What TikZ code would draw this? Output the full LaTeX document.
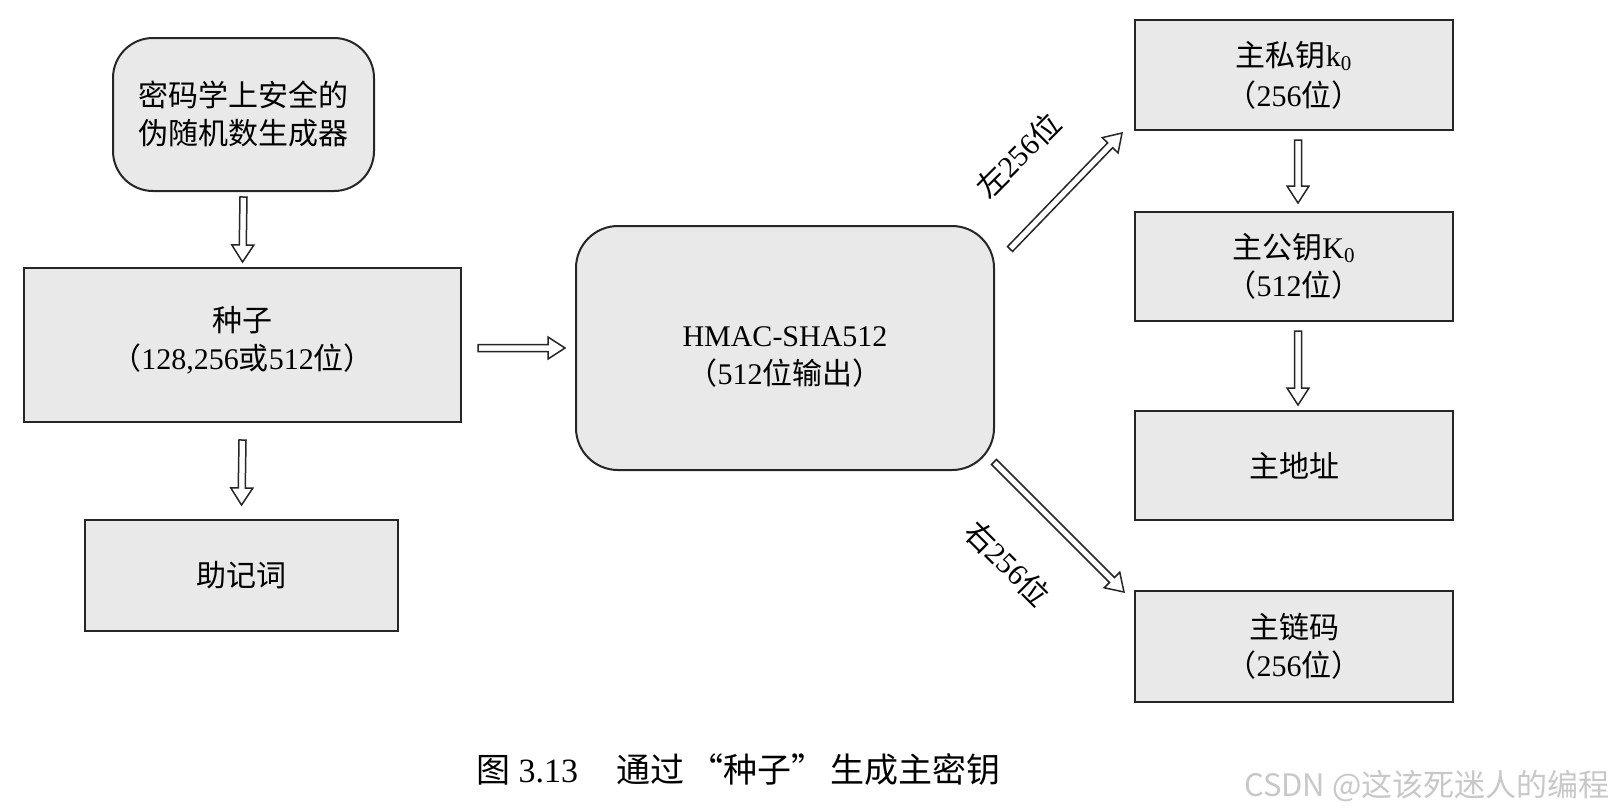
\documentclass[tikz,border=0pt]{standalone}
\usepackage{fontspec}
\setmainfont{Liberation Serif}
\newfontfamily\cjk{Noto Sans CJK SC}
\newfontfamily\wmfont{Noto Sans CJK SC}
\usetikzlibrary{calc}
\newcommand\zh[1]{{\cjk #1}}
\definecolor{boxfill}{RGB}{233,233,233}
\definecolor{linec}{RGB}{38,38,38}
\definecolor{wmgray}{RGB}{200,200,200}
\begin{document}
\begin{tikzpicture}[x=0.5pt,y=-0.5pt,
  box/.style={draw=linec, line width=1pt, fill=boxfill, align=center, inner sep=0pt,
    font={\fontsize{15pt}{19pt}\selectfont}},
  rbox/.style={box, rounded corners=20pt},
  lbl/.style={font={\fontsize{15pt}{18.5pt}\selectfont}, inner sep=0pt},
  harrow/.style={draw=linec, line width=0.75pt, fill=white, line join=miter,
    to path={let \p1=(\tikztostart), \p2=(\tikztotarget),
      \n1={atan2(\y2-\y1,\x2-\x1)}, \n2={veclen(\x2-\x1,\y2-\y1)-8.5pt} in
      ($(\p1)+({\n1+90}:1.75pt)$) -- ($(\p1)+(\n1:\n2)+({\n1+90}:1.75pt)$)
      -- ($(\p1)+(\n1:\n2)+({\n1+90}:5.5pt)$) -- (\p2)
      -- ($(\p1)+(\n1:\n2)+({\n1-90}:5.5pt)$) -- ($(\p1)+(\n1:\n2)+({\n1-90}:1.75pt)$)
      -- ($(\p1)+({\n1-90}:1.75pt)$) -- cycle}}
]
\useasboundingbox (0,0) rectangle (1615,811);
\fill[white] (0,0) rectangle (1615,811);

% left column
\node[rbox, minimum width=130.5pt, minimum height=76.5pt] (prng) at (243.5,114.5)
  {\zh{密码学上安全的}\\\zh{伪随机数生成器}};
\node[box, minimum width=218.5pt, minimum height=77pt] (seed) at (242.5,345)
  {\zh{种子}\\\zh{（}128,256\zh{或}512\zh{位）}\rule[-7pt]{0pt}{0pt}};
\node[box, minimum width=156.5pt, minimum height=55.5pt] (mnem) at (241.5,575.5)
  {\zh{助记词}};

% centre
\node[box, rounded corners=21pt, minimum width=209pt, minimum height=122pt] (hmac) at (785,348)
  {\rule{0pt}{19pt}HMAC-SHA512\\\zh{（}512\zh{位输出）}};

% right column
\node[box, minimum width=159pt, minimum height=55pt, font={\fontsize{15pt}{20pt}\selectfont}] (priv) at (1294,75)
  {\zh{主私钥}k\textsubscript{0}\\\zh{（}256\zh{位）}};
\node[box, minimum width=159pt, minimum height=54.5pt] (pub) at (1294,266.5)
  {\zh{主公钥}K\textsubscript{0}\\\zh{（}512\zh{位）}};
\node[box, minimum width=159pt, minimum height=54.5pt] (addr) at (1294,465.5)
  {\zh{主地址}};
\node[box, minimum width=159pt, minimum height=55.5pt] (chain) at (1294,646.5)
  {\zh{主链码}\\\zh{（}256\zh{位）}};

% arrows
\draw[harrow] ($(prng.south)+(0,5)$) to ($(seed.north)+(0,-5)$);
\draw[harrow] ($(seed.south)+(0,17)$) to ($(mnem.north)+(0,-14)$);
\draw[harrow] ($(seed.east)+(16,3)$) to ($(hmac.west)+(-10,0)$);
\draw[harrow] ($(priv.south)+(4,9)$) to ($(pub.north)+(4,-8)$);
\draw[harrow] ($(pub.south)+(4,9)$) to ($(addr.north)+(4,-5)$);
\draw[harrow] ($(hmac.north east)+(15,24)$) to ($(priv.south west)+(-12,2)$);
\draw[harrow] ($(hmac.south east)+(-1,-9)$) to ($(chain.north west)+(-10,2)$);

% labels
\node[lbl, rotate=45] (lblL) at (1018,155) {\zh{左}256\zh{位}};
\node[lbl, rotate=-45] (lblR) at (1008,563) {\zh{右}256\zh{位}};

% caption
\node[inner sep=0pt, font={\fontsize{17pt}{20pt}\selectfont}] (cap) at (738,770)
  {\zh{图} 3.13\quad\hspace{2pt}\zh{通过}\hspace{2.5pt}\zh{“种子”}\hspace{2.5pt}\zh{生成主密钥}};

% watermark
\node[inner sep=0pt, anchor=east, text=wmgray, font={\wmfont\fontsize{15.5pt}{18pt}\selectfont}] (wm) at (1610,786)
  {CSDN @这该死迷人的编程};
\end{tikzpicture}
\end{document}
